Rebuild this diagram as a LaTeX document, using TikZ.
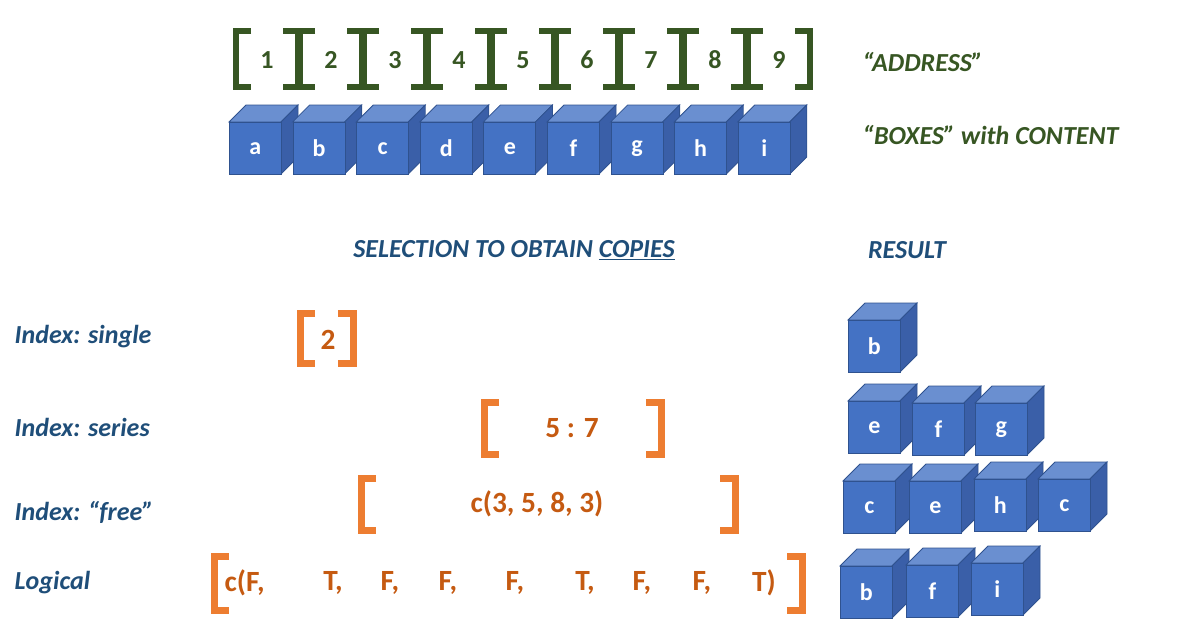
\documentclass[tikz,border=0pt]{standalone}
\usepackage{fontspec}
\setmainfont{Carlito}
\definecolor{gr}{HTML}{375623}
\definecolor{nb}{HTML}{1F4E79}
\definecolor{org}{HTML}{ED7D31}
\definecolor{ot}{HTML}{C55A11}
\definecolor{cf}{HTML}{4472C4}
\definecolor{ct}{HTML}{6A8FD0}
\definecolor{cs}{HTML}{3A5FA8}
\definecolor{co}{HTML}{2F528F}
\newcommand\mycube[4]{%
 \fill[ct,draw=co,line width=0.6pt] (#2,#3)--(#2+17,#3-17)--(#2+69,#3-17)--(#2+52,#3)--cycle;
 \fill[cs,draw=co,line width=0.6pt] (#2+52,#3)--(#2+69,#3-17)--(#2+69,#3+35)--(#2+52,#3+52)--cycle;
 \node[fill=cf,draw=co,line width=0.6pt,minimum size=52*0.75pt,inner sep=0pt,anchor=north west,text=white,font=\fontsize{18}{20}\selectfont\bfseries] (#1) at (#2,#3) {#4};}
\newcommand\lbr[4]{\draw[#4,line width=#3*0.75pt] (#1+15,#2)--(#1,#2)--(#1,#2+\bh)--(#1+15,#2+\bh);}
\newcommand\rbr[4]{\draw[#4,line width=#3*0.75pt] (#1-15,#2)--(#1,#2)--(#1,#2+\bh)--(#1-15,#2+\bh);}
\begin{document}
\begin{tikzpicture}[x=0.75pt,y=-0.75pt,
 lab/.style={anchor=west,text=nb,font=\fontsize{19.5}{22}\selectfont\bfseries\itshape},
 glab/.style={anchor=west,text=gr,font=\fontsize{19.5}{22}\selectfont\bfseries\itshape},
 num/.style={text=gr,font=\fontsize{19.5}{22}\selectfont\bfseries},
 otx/.style={text=ot,font=\fontsize{22}{24}\selectfont\bfseries}]
\useasboundingbox (0,0) rectangle (1200,643);
% address
\def\bh{56}
\foreach \i in {1,...,9}{
 \pgfmathsetmacro\xx{236+64*(\i-1)}
 \lbr{\xx}{31}{6}{gr}
 \rbr{\xx+62}{31}{6}{gr}
 \node[num] (n\i) at (\xx+31,60) {\i};
}
\foreach \l [count=\i] in {a,b,c,d,e,f,g,h,i}{
 \pgfmathsetmacro\xx{229+63.6*(\i-1)}
 \mycube{t\i}{\xx}{122}{\l}
}
\node[glab] (addr) at (858,62) {“ADDRESS”};
\node[glab] (boxes) at (858,135) {“BOXES” with CONTENT};
\node[lab,anchor=center] (sel) at (514,250) {SELECTION TO OBTAIN \underline{COPIES}};
\node[lab,anchor=center] (res) at (907,250) {RESULT};
\node[lab] (l1) at (10,337) {Index: single};
\node[lab] (l2) at (10,427) {Index: series};
\node[lab] (l3) at (10,512) {Index: “free”};
\node[lab] (l4) at (10,583) {Logical};
% single
\def\bh{50}
\lbr{300}{313}{7}{org}\rbr{353}{313}{7}{org}
\node[otx] (s1) at (328,340) {2};
\def\bh{52}
\lbr{484}{402}{7}{org}\rbr{661}{402}{7}{org}
\node[otx] (s2) at (572,428) {5 : 7};
\lbr{361}{478}{7}{org}\rbr{735}{478}{7}{org}
\node[otx] (s3) at (537,504) {c(3, 5, 8, 3)};
\def\bh{54}
\lbr{214}{556}{7}{org}\rbr{802}{556}{7}{org}
\node[otx,anchor=west] (s4) at (220,583) {c(F,};
\foreach \t/\x [count=\k] in {{T,}/333,{F,}/390,{F,}/448,{F,}/515,{T,}/585,{F,}/642,{F,}/702}{
 \node[otx] (q\k) at (\x,583) {\t};}
\node[otx] (q8) at (764,583) {T)};
% results
\mycube{r1}{848}{320}{b}
\mycube{r2}{848}{401}{e}\mycube{r3}{912}{403}{f}\mycube{r4}{975}{403}{g}
\mycube{r5}{843}{481}{c}\mycube{r6}{909}{481}{e}\mycube{r7}{974}{479}{h}\mycube{r8}{1038}{479}{c}
\mycube{r9}{840}{566}{b}\mycube{r10}{906}{565}{f}\mycube{r11}{971}{563}{i}
\end{tikzpicture}
\end{document}
